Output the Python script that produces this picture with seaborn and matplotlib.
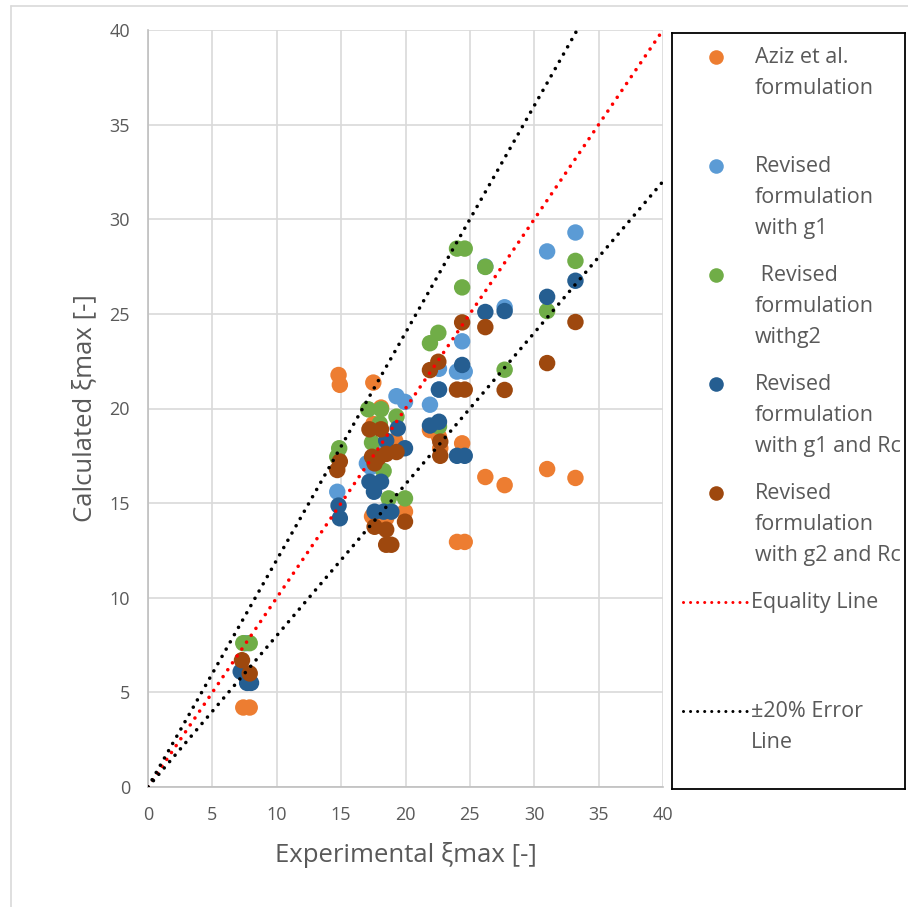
import numpy as np
import pandas as pd
import matplotlib
matplotlib.use("Agg")
import matplotlib.pyplot as plt
from matplotlib.lines import Line2D
import seaborn as sns

# ---------------- data ----------------
series_names = [
    "Aziz et al.\nformulation",
    "Revised\nformulation\nwith g1",
    " Revised\nformulation\nwithg2",
    "Revised\nformulation\nwith g1 and Rc",
    "Revised\nformulation\nwith g2 and Rc",
]
series_colors = ["#ED7D31", "#5B9BD5", "#70AD47", "#255E91", "#9E480E"]

aziz_x = [7.4, 7.9, 14.8, 14.9, 17.5, 18.1, 17.5, 19.2, 19.96, 17.4, 18.5, 21.9, 22.6, 24.4, 22.7, 24.0, 24.6, 26.2, 27.7, 31.0, 33.2]
aziz_y = [4.2, 4.2, 21.77, 21.25, 21.37, 20.05, 19.18, 18.3, 14.55, 14.3, 14.2, 18.86, 18.5, 18.16, 17.9, 12.95, 12.95, 16.38, 15.95, 16.8, 16.33]

g1_x = [7.6, 14.7, 17.0, 17.3, 18.2, 19.3, 19.96, 21.9, 22.6, 22.6, 24.0, 24.6, 24.4, 26.2, 27.7, 31.0, 33.2]
g1_y = [7.6, 15.6, 17.1, 16.9, 17.96, 20.65, 20.35, 20.2, 22.1, 21.0, 21.95, 21.95, 23.55, 27.5, 25.35, 28.3, 29.3]

g2_x = [7.4, 7.9, 14.85, 14.7, 17.1, 18.1, 19.3, 18.0, 17.4, 18.3, 18.7, 19.96, 21.9, 22.55, 22.6, 24.0, 24.6, 24.4, 26.2, 27.7, 31.0, 33.2]
g2_y = [7.6, 7.6, 17.9, 17.45, 19.96, 19.96, 19.57, 19.2, 18.2, 16.7, 15.25, 15.25, 23.45, 24.0, 19.05, 28.45, 28.45, 26.4, 27.48, 22.05, 25.15, 27.8]

g1rc_x = [7.2, 7.7, 8.0, 14.8, 14.9, 17.2, 18.1, 17.55, 17.6, 18.3, 18.9, 18.5, 19.4, 19.96, 21.9, 22.6, 22.6, 24.4, 24.0, 24.6, 26.2, 27.7, 31.0, 33.2]
g1rc_y = [6.1, 5.5, 5.5, 14.87, 14.2, 16.13, 16.13, 15.6, 14.55, 14.55, 14.55, 18.3, 18.95, 17.9, 19.1, 19.3, 21.0, 22.3, 17.5, 17.5, 25.1, 25.15, 25.9, 26.75]

g2rc_x = [7.3, 7.9, 14.9, 14.7, 17.2, 18.1, 17.9, 18.5, 19.3, 17.4, 17.6, 17.6, 18.5, 19.96, 18.5, 18.9, 21.9, 22.55, 22.7, 22.7, 24.0, 24.6, 24.4, 26.2, 27.7, 31.0, 33.2]
g2rc_y = [6.7, 6.0, 17.2, 16.75, 18.9, 18.9, 17.4, 17.6, 17.7, 17.45, 17.1, 13.75, 13.6, 14.02, 12.8, 12.8, 22.03, 22.47, 17.5, 18.25, 21.0, 21.0, 24.55, 24.3, 20.98, 22.4, 24.57]

all_x = [aziz_x, g1_x, g2_x, g1rc_x, g2rc_x]
all_y = [aziz_y, g1_y, g2_y, g1rc_y, g2rc_y]

equality_label = "Equality Line"
error_label = "±20% Error\nLine"
line_x = [0, 40]
err_factor = [1.2, 0.8]

xticks = [0, 5, 10, 15, 20, 25, 30, 35, 40]
yticks = [0, 5, 10, 15, 20, 25, 30, 35, 40]
xlabel = "Experimental ξmax [-]"
ylabel = "Calculated ξmax [-]"

# ---------------- figure ----------------
sns.set_style("white")
plt.rcParams["font.family"] = ["Open Sans", "DejaVu Sans"]

W, H = 908, 907
fig = plt.figure(figsize=(W / 100, H / 100), dpi=100)

# outer chart border
fig.add_artist(Line2D([11 / W, 11 / W], [0, 1 - 6 / H], color="#d9d9d9", lw=1.2))
fig.add_artist(Line2D([11 / W, 1], [1 - 6 / H, 1 - 6 / H], color="#d9d9d9", lw=1.2))

ax = fig.add_axes([148 / W, 1 - 787 / H, 515 / W, 757 / H])

df = pd.concat(
    [pd.DataFrame({"x": xs, "y": ys, "series": name})
     for name, xs, ys in zip(series_names, all_x, all_y)],
    ignore_index=True,
)
sns.scatterplot(data=df, x="x", y="y", hue="series", hue_order=series_names,
                palette=series_colors, s=140, linewidth=0, alpha=1,
                ax=ax, legend=False, zorder=3)

dot_style = dict(linestyle=(0, (0.01, 2.3)), dash_capstyle="round", lw=2.6, zorder=4)
xs_line = np.array(line_x, dtype=float)
ax.plot(xs_line, xs_line, color="#FF0000", **dot_style)
for f in err_factor:
    ax.plot(xs_line, xs_line * f, color="black", **dot_style)

ax.set_xlim(0, 40)
ax.set_ylim(0, 40)
ax.set_xticks(xticks)
ax.set_yticks(yticks)
ax.grid(True, color="#d9d9d9", lw=1.2)
ax.set_axisbelow(True)
for side in ["top", "right"]:
    ax.spines[side].set_visible(False)
ax.spines["left"].set_color("#bfbfbf")
ax.spines["bottom"].set_color("#bfbfbf")
ax.spines["left"].set_linewidth(1.2)
ax.spines["bottom"].set_linewidth(1.2)
ax.tick_params(length=0, labelsize=13, labelcolor="#595959")
ax.tick_params(axis="y", pad=13)
ax.tick_params(axis="x", pad=14)
ax.set_xlabel(xlabel, fontsize=18.5, color="#595959", labelpad=13)
ax.set_ylabel(ylabel, fontsize=18.5, color="#595959", labelpad=9)

# ---------------- legend panel ----------------
lax = fig.add_axes([672 / W, 1 - 789 / H, (905 - 672) / W, (789 - 33) / H])
lax.set_xlim(672, 905)
lax.set_ylim(789, 33)
lax.set_xticks([])
lax.set_yticks([])
lax.set_facecolor("white")
for sp in lax.spines.values():
    sp.set_color("black")
    sp.set_linewidth(1.3)

entry_y0 = 57
entry_step = 109
line_h = 31
text_x = 755
leg_fs = 15.5
for i, (name, col) in enumerate(zip(series_names, series_colors)):
    yy = entry_y0 + i * entry_step
    lax.scatter([716], [yy], s=110, color=col, linewidth=0)
    for j, ln in enumerate(name.split("\n")):
        lax.text(text_x, yy + j * line_h, ln, fontsize=leg_fs, color="#595959",
                 va="center", ha="left")

leg_lines = [(equality_label, "#FF0000"), (error_label, "black")]
for k, (lbl, col) in enumerate(leg_lines):
    yy = entry_y0 + (5 + k) * entry_step
    lax.plot([683, 748], [yy, yy], color=col, linestyle=(0, (0.01, 2.3)),
             dash_capstyle="round", lw=2.2)
    for j, ln in enumerate(lbl.split("\n")):
        lax.text(text_x - 4, yy + j * line_h, ln, fontsize=leg_fs, color="#595959",
                 va="center", ha="left")

fig.savefig("out.png", dpi=100, facecolor="white")
